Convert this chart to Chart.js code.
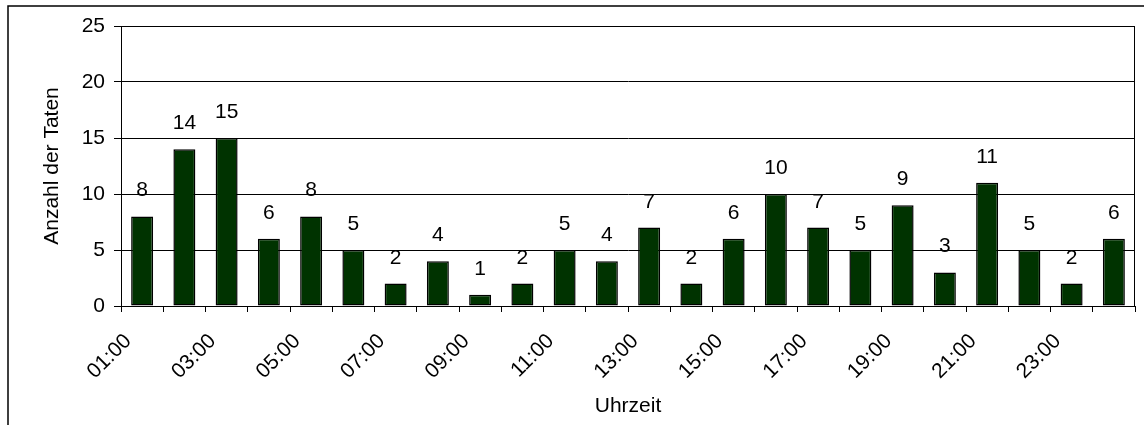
<!DOCTYPE html>
<html>
<head>
<meta charset="utf-8">
<script src="https://cdn.jsdelivr.net/npm/chart.js@4"></script>
<style>
  html, body { margin: 0; padding: 0; background: #fff; }
  #wrap { width: 1144px; height: 425px; }
</style>
</head>
<body>
<div id="wrap"><canvas id="myBarChart" width="1144" height="425"></canvas></div>
<script>
const hours = ['01:00', '02:00', '03:00', '04:00', '05:00', '06:00', '07:00', '08:00',
  '09:00', '10:00', '11:00', '12:00', '13:00', '14:00', '15:00', '16:00',
  '17:00', '18:00', '19:00', '20:00', '21:00', '22:00', '23:00', '24:00'];
const taten = [8, 14, 15, 6, 8, 5, 2, 4, 1, 2, 5, 4, 7, 2, 6, 10, 7, 5, 9, 3, 11, 5, 2, 6];
const yTicks = [0, 5, 10, 15, 20, 25];

const fontFamily = '"Liberation Sans", Arial, sans-serif';

// frame + plot box + value labels
const excelLook = {
    id: 'excelLook',
    beforeDraw(chart) {
        const ctx = chart.ctx;
        ctx.save();
        ctx.strokeStyle = '#000';
        ctx.lineWidth = 1.5;
        ctx.beginPath();
        ctx.moveTo(8, 425);
        ctx.lineTo(8, 6);
        ctx.lineTo(1144, 6);
        ctx.stroke();
        ctx.restore();
    },
    afterDatasetsDraw(chart) {
        const ctx = chart.ctx;
        const area = chart.chartArea;
        ctx.save();
        ctx.strokeStyle = '#000';
        ctx.lineWidth = 1;
        ctx.strokeRect(area.left + 0.5, area.top + 0.5, area.right - area.left - 1, area.bottom - area.top);
        ctx.fillStyle = '#000';
        ctx.font = '21px ' + fontFamily;
        ctx.textAlign = 'center';
        ctx.textBaseline = 'alphabetic';
        const meta = chart.getDatasetMeta(0);
        meta.data.forEach((bar, i) => {
            ctx.fillText(String(taten[i]), bar.x, bar.y - 20);
        });
        ctx.restore();
    }
};

const ctxBar = document.getElementById('myBarChart').getContext('2d');
const dataBar = {
    labels: hours,
    datasets: [{
        label: 'Anzahl der Taten',
        data: taten,
        backgroundColor: '#003300',
        borderColor: '#000',
        borderWidth: 1.5,
        borderSkipped: false,
        barPercentage: 0.52,
        categoryPercentage: 1
    }]
};

const configBar = {
    type: 'bar',
    data: dataBar,
    options: {
        responsive: false,
        animation: false,
        layout: { padding: { left: 36, top: 26, right: 9, bottom: 0 } },
        scales: {
            x: {
                grid: { offset: true, drawOnChartArea: false, tickLength: 6, color: '#000' },
                border: { color: '#000', width: 1 },
                ticks: {
                    autoSkip: false,
                    maxRotation: 45,
                    minRotation: 45,
                    padding: 17,
                    labelOffset: -14,
                    color: '#000',
                    font: { family: fontFamily, size: 21 },
                    callback: (v, i) => (i % 2 === 0 ? hours[i] : '')
                },
                title: {
                    display: true,
                    text: 'Uhrzeit',
                    color: '#000',
                    font: { family: fontFamily, size: 21 },
                    padding: { top: 0, bottom: 6 }
                },
                afterFit: (scale) => {
                    scale.height = 425 - 306;
                    scale.paddingLeft = 0;
                    scale.paddingRight = 0;
                }
            },
            y: {
                min: 0,
                max: 25,
                afterBuildTicks: (scale) => { scale.ticks = yTicks.map(v => ({ value: v })); },
                grid: { color: '#000', tickLength: 7 },
                border: { color: '#000', width: 1 },
                ticks: {
                    padding: 9,
                    color: '#000',
                    font: { family: fontFamily, size: 21 }
                },
                title: {
                    display: true,
                    text: 'Anzahl der Taten',
                    color: '#000',
                    font: { family: fontFamily, size: 21 },
                    padding: { top: 4, bottom: 4 }
                },
                afterFit: (scale) => { scale.width = 121 - 36; }
            }
        },
        plugins: {
            legend: { display: false },
            tooltip: { enabled: false }
        }
    },
    plugins: [excelLook]
};

const myBarChart = new Chart(ctxBar, configBar);
</script>
</body>
</html>
